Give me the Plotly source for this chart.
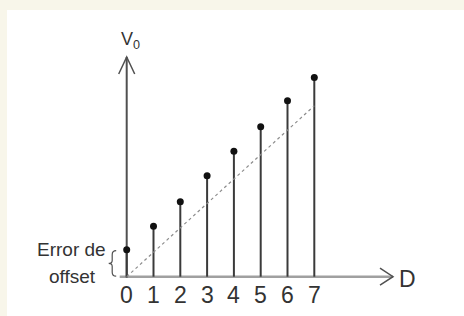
import plotly.graph_objects as go

# ---- data ----
codes = [0, 1, 2, 3, 4, 5, 6, 7]
v_out = [1.1, 2.05, 3.05, 4.1, 5.1, 6.1, 7.15, 8.1]
ideal_x = [0, 7]
ideal_y = [0, 6.95]
tick_labels = ["0", "1", "2", "3", "4", "5", "6", "7"]
offset_label = ["Error de", "offset"]

# ---- geometry (pixels) ----
W, H = 464, 316
X0, Y0 = 126.7, 276.7          # origin in pixels
SX, SY = 26.8, 24.6            # pixels per unit
xr = [-X0 / SX, (W - X0) / SX]
yr = [-(H - Y0) / SY, Y0 / SY]


def px(d):
    return d / SX


def py(d):
    return d / SY


FONT = "Liberation Sans, Arial, sans-serif"

fig = go.Figure()

# stems
sx, sy = [], []
for d, v in zip(codes, v_out):
    sx += [d, d, None]
    sy += [0, v, None]
fig.add_trace(go.Scatter(x=sx, y=sy, mode="lines",
                         line=dict(color="#3a3a3a", width=2), hoverinfo="skip"))

# ideal line
fig.add_trace(go.Scatter(x=ideal_x, y=ideal_y, mode="lines",
                         line=dict(color="#8c8c8c", width=1.2, dash="dot"),
                         hoverinfo="skip"))

# dots
fig.add_trace(go.Scatter(x=codes, y=v_out, mode="markers",
                         marker=dict(color="#111111", size=7)))

top = py(219.7)
right = px(266.3)
shapes = [
    # white panel over cream background
    dict(type="rect", xref="paper", yref="paper", x0=7 / W, x1=1,
         y0=0, y1=(H - 10) / H, fillcolor="white", line=dict(width=0),
         layer="below"),
    # horizontal axis
    dict(type="line", x0=-px(7), x1=right, y0=0, y1=0,
         line=dict(color="#a0a0a0", width=2.5), layer="below"),
    # vertical axis
    dict(type="line", x0=0, x1=0, y0=-py(1), y1=top,
         line=dict(color="#505050", width=2), layer="below"),
    # vertical arrow chevron
    dict(type="path",
         path=f"M {-px(8)} {top - py(17)} L 0 {top} L {px(8)} {top - py(17)}",
         line=dict(color="#505050", width=1.5)),
    # horizontal arrow chevron
    dict(type="path",
         path=f"M {right - px(13)} {py(8.5)} L {right} 0 L {right - px(13)} {-py(8.5)}",
         line=dict(color="#505050", width=1.5)),
]

# brace for offset error
bx = -px(14.5)
bt = py(26)
bb = py(0.5)
bm = (bt + bb) / 2
brace = (f"M {bx + px(4)} {bt} Q {bx} {bt} {bx} {bt - py(4)} "
         f"L {bx} {bm + py(3)} Q {bx} {bm} {bx - px(3.5)} {bm} "
         f"Q {bx} {bm} {bx} {bm - py(3)} "
         f"L {bx} {bb + py(4)} Q {bx} {bb} {bx + px(4)} {bb}")
shapes.append(dict(type="path", path=brace,
                   line=dict(color="#505050", width=1.2)))

annotations = []
for d, t in zip(codes, tick_labels):
    annotations.append(dict(x=d, y=0, text=t, showarrow=False, yshift=-18.5,
                            xanchor="center", yanchor="middle",
                            font=dict(family=FONT, size=23, color="#333333")))
annotations.append(dict(x=px(407 - X0), y=0, text="D", showarrow=False,
                        yshift=-2, xanchor="center", yanchor="middle",
                        font=dict(family=FONT, size=23, color="#333333")))
annotations.append(dict(x=px(4), y=py(Y0 - 40), text="V<sub>0</sub>",
                        showarrow=False, xanchor="center", yanchor="middle",
                        font=dict(family=FONT, size=18, color="#333333")))
annotations.append(dict(x=-px(X0 - 71), y=py(Y0 - 249), text=offset_label[0],
                        showarrow=False, xanchor="center", yanchor="middle",
                        font=dict(family=FONT, size=19, color="#333333")))
annotations.append(dict(x=-px(X0 - 72), y=py(Y0 - 276), text=offset_label[1],
                        showarrow=False, xanchor="center", yanchor="middle",
                        font=dict(family=FONT, size=19, color="#333333")))

fig.update_layout(
    width=W, height=H, autosize=False,
    margin=dict(l=0, r=0, t=0, b=0),
    paper_bgcolor="#f8f6ea", plot_bgcolor="rgba(0,0,0,0)",
    showlegend=False,
    xaxis=dict(range=xr, visible=False, fixedrange=True),
    yaxis=dict(range=yr, visible=False, fixedrange=True),
    shapes=shapes, annotations=annotations,
)

fig.write_html("out.html", config={"displayModeBar": False})

# remove the browser's default body margin so the figure sits at (0, 0)
with open("out.html", encoding="utf-8") as f:
    html = f.read()
html = html.replace("<body>", '<body style="margin:0;padding:0;overflow:hidden">', 1)
with open("out.html", "w", encoding="utf-8") as f:
    f.write(html)
